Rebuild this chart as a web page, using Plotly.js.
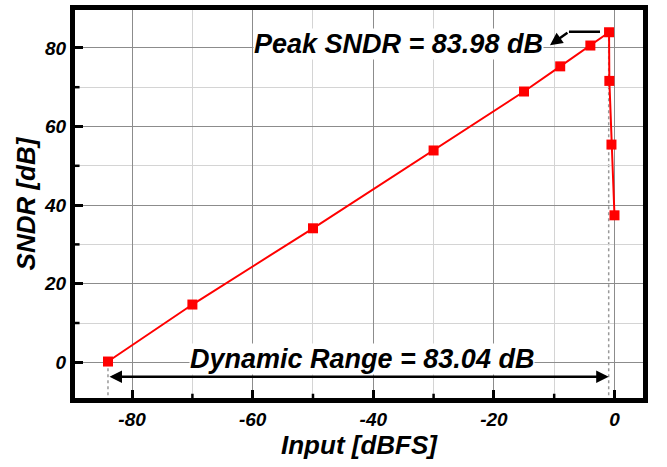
<!DOCTYPE html>
<html>
<head>
<meta charset="utf-8">
<script src="https://cdn.plot.ly/plotly-3.0.1.min.js"></script>
<style>html,body{margin:0;padding:0;background:#fff;}#chart{width:667px;height:467px;}</style>
</head>
<body>
<div id="chart"></div>
<script>
// Data
const inputDBFS = [-84, -70, -50, -30, -15, -9, -4, -0.9, -0.85, -0.5, 0.0];
const sndrDB    = [0.2, 14.7, 34.1, 53.9, 68.9, 75.3, 80.6, 83.98, 71.6, 55.4, 37.4];
const peakSNDR = 83.98;
const dynamicRange = 83.04;
const drStart = -84;
const drEnd = -0.96;
const xTickVals = [-80, -60, -40, -20, 0];
const xTickText = ['-80', '-60', '-40', '-20', '0'];
const yTickVals = [0, 20, 40, 60, 80];
const yTickText = ['0', '20', '40', '60', '80'];
const xMinorVals = [-70, -50, -30, -10];
const yMinorVals = [10, 30, 50, 70];

const fontFam = '"Liberation Sans", Arial, sans-serif';
const bi = (size) => ({family: fontFam, size: size, color: '#000', weight: 'bold', style: 'italic'});

const trace = {
  x: inputDBFS,
  y: sndrDB,
  type: 'scatter',
  mode: 'lines+markers',
  line: {color: '#ff0000', width: 2},
  marker: {symbol: 'square', size: 10, color: '#ff0000'},
  hoverinfo: 'skip'
};

const axisCommon = {
  showline: true, linewidth: 5, linecolor: '#000', mirror: true,
  ticks: 'inside', ticklen: 8, tickwidth: 3, tickcolor: '#000',
  showgrid: true, gridcolor: '#8c8c8c', gridwidth: 1,
  zeroline: false,
  tickfont: bi(19),
  tickmode: 'array',
  minor: {tickmode: 'array', ticks: '', showgrid: true, gridcolor: '#d4d4d4', gridwidth: 1}
};

const minorTickShapes = [];
xMinorVals.forEach(v => minorTickShapes.push({
  type: 'line', xref: 'x', yref: 'y domain', x0: v, x1: v, y0: 0, y1: 0.011,
  line: {color: '#000', width: 2.5}
}));
yMinorVals.forEach(v => minorTickShapes.push({
  type: 'line', xref: 'x domain', yref: 'y', x0: 0, x1: 0.008, y0: v, y1: v,
  line: {color: '#000', width: 2.5}
}));

const layout = {
  width: 667, height: 467,
  margin: {l: 75, r: 24, t: 10, b: 69},
  paper_bgcolor: '#fff', plot_bgcolor: '#fff',
  showlegend: false,
  xaxis: Object.assign({}, axisCommon, {
    range: [-89.47, 4.73],
    tickvals: xTickVals, ticktext: xTickText,
    minor: Object.assign({}, axisCommon.minor, {tickvals: xMinorVals}),
    title: {text: 'Input [dBFS]', font: bi(26), standoff: 6}
  }),
  yaxis: Object.assign({}, axisCommon, {
    range: [-9.08, 89.64],
    tickvals: yTickVals, ticktext: yTickText,
    minor: Object.assign({}, axisCommon.minor, {tickvals: yMinorVals}),
    title: {text: 'SNDR [dB]', font: bi(26), standoff: 2}
  }),
  shapes: [
    {type: 'line', xref: 'x', yref: 'y', x0: drStart, x1: drStart, y0: 0, y1: -9.08,
     line: {color: '#999', width: 1.5, dash: '3px,3px'}, layer: 'below'},
    {type: 'line', xref: 'x', yref: 'y', x0: drEnd, x1: drEnd, y0: peakSNDR, y1: -9.08,
     line: {color: '#999', width: 1.5, dash: '3px,3px'}, layer: 'below'},
    {type: 'line', xref: 'x', yref: 'y', x0: -2.4, x1: -7.55, y0: 84.1, y1: 84.1,
     line: {color: '#000', width: 2.5}}
  ].concat(minorTickShapes),
  annotations: [
    {x: -35.9, y: 81.0, xref: 'x', yref: 'y', text: 'Peak SNDR = ' + peakSNDR.toFixed(2) + ' dB',
     showarrow: false, font: bi(27), bgcolor: '#fff', borderpad: 0},
    {x: -10.7, y: 80.7, xref: 'x', yref: 'y', ax: -7.55, ay: 84.1, axref: 'x', ayref: 'y',
     text: '', showarrow: true, arrowhead: 2, arrowsize: 1, arrowwidth: 2.5, arrowcolor: '#000', standoff: 0},
    {x: -41.9, y: 0.9, xref: 'x', yref: 'y', text: 'Dynamic Range = ' + dynamicRange.toFixed(2) + ' dB',
     showarrow: false, font: bi(27), bgcolor: '#fff', borderpad: 0},
    {x: drEnd, y: -3.66, xref: 'x', yref: 'y', ax: drStart, ay: -3.66, axref: 'x', ayref: 'y',
     text: '', showarrow: true, arrowhead: 2, startarrowhead: 2, arrowside: 'end+start',
     arrowsize: 1, startarrowsize: 1, arrowwidth: 2.5, arrowcolor: '#000', standoff: 0, startstandoff: 0}
  ]
};

Plotly.newPlot('chart', [trace], layout, {staticPlot: true, displayModeBar: false});
</script>
</body>
</html>
